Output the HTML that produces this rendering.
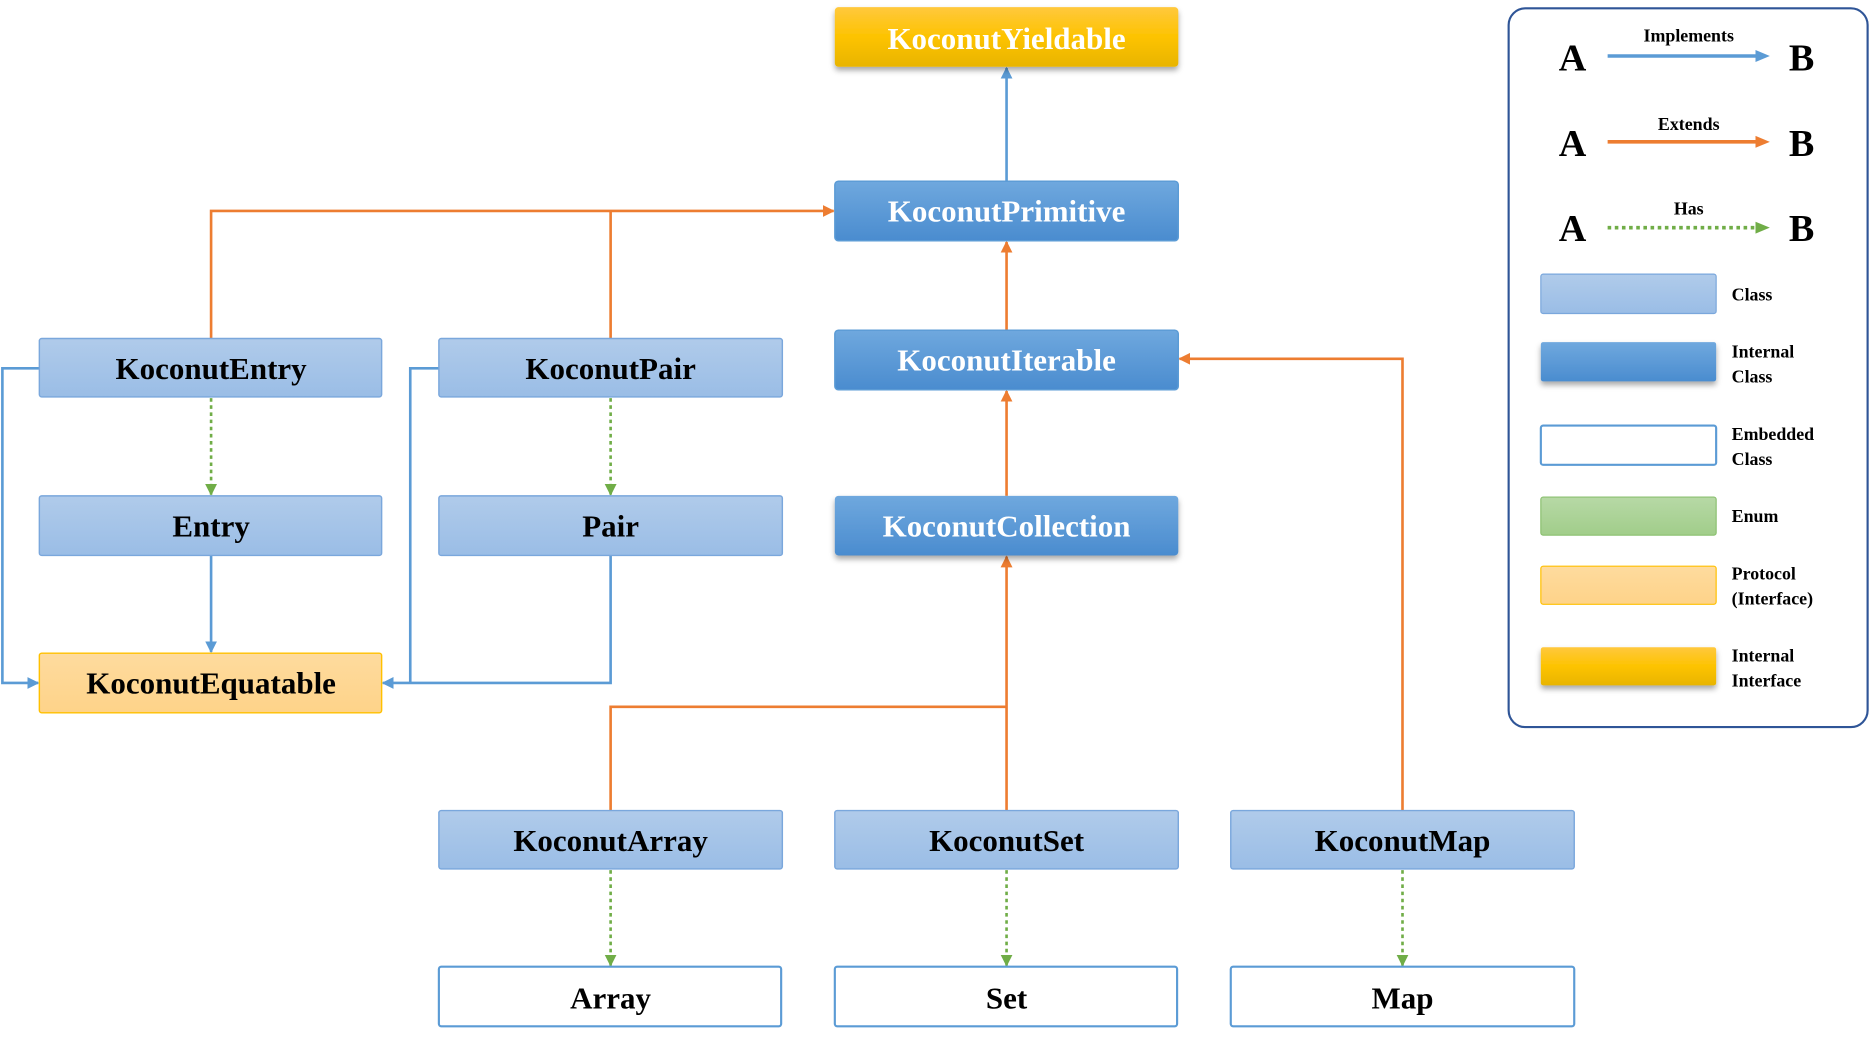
<!DOCTYPE html>
<html><head><meta charset="utf-8"><style>
html,body{margin:0;padding:0;background:#fff;width:1870px;height:1037px;overflow:hidden}
svg{display:block}
text{font-family:"Liberation Serif",serif;font-weight:bold}
</style></head><body>
<svg width="1870" height="1037" viewBox="0 0 1568 870" preserveAspectRatio="none" xmlns="http://www.w3.org/2000/svg">
<defs>
<linearGradient id="cls" x1="0" y1="0" x2="0" y2="1"><stop offset="0" stop-color="#b0cbea"/><stop offset="1" stop-color="#9abde6"/></linearGradient>
<linearGradient id="icls" x1="0" y1="0" x2="0" y2="1"><stop offset="0" stop-color="#6fa8de"/><stop offset="1" stop-color="#4a8ccf"/></linearGradient>
<linearGradient id="prot" x1="0" y1="0" x2="0" y2="1"><stop offset="0" stop-color="#fedb9e"/><stop offset="1" stop-color="#fed389"/></linearGradient>
<linearGradient id="iint" x1="0" y1="0" x2="0" y2="1"><stop offset="0" stop-color="#ffc83d"/><stop offset="0.5" stop-color="#fdc300"/><stop offset="1" stop-color="#e8b400"/></linearGradient>
<linearGradient id="enm" x1="0" y1="0" x2="0" y2="1"><stop offset="0" stop-color="#b7d9a6"/><stop offset="1" stop-color="#a1cd8a"/></linearGradient>
<filter id="sh" x="-10%" y="-20%" width="120%" height="160%"><feDropShadow dx="0" dy="3" stdDeviation="2.5" flood-color="#000" flood-opacity="0.35"/></filter>
<marker id="ab" markerWidth="10" markerHeight="10" refX="9" refY="5" orient="auto" markerUnits="userSpaceOnUse"><path d="M0,0 L10,5 L0,10 z" fill="#5b9bd5"/></marker>
<marker id="ao" markerWidth="10" markerHeight="10" refX="9" refY="5" orient="auto" markerUnits="userSpaceOnUse"><path d="M0,0 L10,5 L0,10 z" fill="#ed7d31"/></marker>
<marker id="ag" markerWidth="10" markerHeight="10" refX="9" refY="5" orient="auto" markerUnits="userSpaceOnUse"><path d="M0,0 L10,5 L0,10 z" fill="#70ad47"/></marker>
</defs>

<!-- connectors -->
<g fill="none" stroke-width="2.2">
<path d="M844,152 V57" stroke="#5b9bd5" marker-end="url(#ab)"/>
<path d="M177,284 V177 H699" stroke="#ed7d31" marker-end="url(#ao)"/>
<path d="M512,284 V177" stroke="#ed7d31"/>
<path d="M844,277 V203" stroke="#ed7d31" marker-end="url(#ao)"/>
<path d="M844,416 V328" stroke="#ed7d31" marker-end="url(#ao)"/>
<path d="M1176,680 V301 H989" stroke="#ed7d31" marker-end="url(#ao)"/>
<path d="M512,680 V593 H844" stroke="#ed7d31"/>
<path d="M844,680 V467" stroke="#ed7d31" marker-end="url(#ao)"/>
<path d="M177,334 V415" stroke="#70ad47" stroke-dasharray="3,3" marker-end="url(#ag)"/>
<path d="M512,334 V415" stroke="#70ad47" stroke-dasharray="3,3" marker-end="url(#ag)"/>
<path d="M512,730 V810" stroke="#70ad47" stroke-dasharray="3,3" marker-end="url(#ag)"/>
<path d="M844,730 V810" stroke="#70ad47" stroke-dasharray="3,3" marker-end="url(#ag)"/>
<path d="M1176,730 V810" stroke="#70ad47" stroke-dasharray="3,3" marker-end="url(#ag)"/>
<path d="M177,466 V547" stroke="#5b9bd5" marker-end="url(#ab)"/>
<path d="M512,466 V573 H321" stroke="#5b9bd5" marker-end="url(#ab)"/>
<path d="M33,309 H2 V573 H32" stroke="#5b9bd5" marker-end="url(#ab)"/>
<path d="M368,309 H344 V573" stroke="#5b9bd5"/>
</g>

<!-- boxes -->
<g stroke-width="1.2">
<rect x="700" y="6" width="288" height="50" rx="3" fill="url(#iint)" filter="url(#sh)"/>
<rect x="700" y="152" width="288" height="50" rx="3" fill="url(#icls)" stroke="#5b9bd5"/>
<rect x="700" y="277" width="288" height="50" rx="3" fill="url(#icls)" stroke="#5b9bd5"/>
<rect x="700" y="416" width="288" height="50" rx="3" fill="url(#icls)" filter="url(#sh)"/>
<rect x="33" y="284" width="287" height="49" rx="2" fill="url(#cls)" stroke="#7aa7dc"/>
<rect x="368" y="284" width="288" height="49" rx="2" fill="url(#cls)" stroke="#7aa7dc"/>
<rect x="33" y="416" width="287" height="50" rx="2" fill="url(#cls)" stroke="#7aa7dc"/>
<rect x="368" y="416" width="288" height="50" rx="2" fill="url(#cls)" stroke="#7aa7dc"/>
<rect x="33" y="548" width="287" height="50" rx="2" fill="url(#prot)" stroke="#ffc000"/>
<rect x="368" y="680" width="288" height="49" rx="2" fill="url(#cls)" stroke="#7aa7dc"/>
<rect x="700" y="680" width="288" height="49" rx="2" fill="url(#cls)" stroke="#7aa7dc"/>
<rect x="1032" y="680" width="288" height="49" rx="2" fill="url(#cls)" stroke="#7aa7dc"/>
<rect x="368" y="811" width="287" height="50" rx="2" fill="#fff" stroke="#5b9bd5" stroke-width="1.8"/>
<rect x="700" y="811" width="287" height="50" rx="2" fill="#fff" stroke="#5b9bd5" stroke-width="1.8"/>
<rect x="1032" y="811" width="288" height="50" rx="2" fill="#fff" stroke="#5b9bd5" stroke-width="1.8"/>
</g>

<g font-size="26" text-anchor="middle">
<text x="844" y="41" fill="#fff">KoconutYieldable</text>
<text x="844" y="186" fill="#fff">KoconutPrimitive</text>
<text x="844" y="311" fill="#fff">KoconutIterable</text>
<text x="844" y="450" fill="#fff">KoconutCollection</text>
<text x="177" y="318">KoconutEntry</text>
<text x="512" y="318">KoconutPair</text>
<text x="177" y="450">Entry</text>
<text x="512" y="450">Pair</text>
<text x="177" y="582">KoconutEquatable</text>
<text x="512" y="714">KoconutArray</text>
<text x="844" y="714">KoconutSet</text>
<text x="1176" y="714">KoconutMap</text>
<text x="512" y="846">Array</text>
<text x="844" y="846">Set</text>
<text x="1176" y="846">Map</text>
</g>

<!-- legend -->
<rect x="1265" y="7" width="301" height="603" rx="14" fill="#fff" stroke="#2f5597" stroke-width="1.8"/>
<g font-size="32">
<text x="1307" y="59">A</text><text x="1500" y="59">B</text>
<text x="1307" y="131">A</text><text x="1500" y="131">B</text>
<text x="1307" y="202">A</text><text x="1500" y="202">B</text>
</g>
<g font-size="15" text-anchor="middle">
<text x="1416" y="35">Implements</text>
<text x="1416" y="109">Extends</text>
<text x="1416" y="180">Has</text>
</g>
<path d="M1348,47 H1474" stroke="#5b9bd5" stroke-width="3"/><path d="M1472,42 L1484,47 L1472,52z" fill="#5b9bd5"/>
<path d="M1348,119 H1474" stroke="#ed7d31" stroke-width="3"/><path d="M1472,114 L1484,119 L1472,124z" fill="#ed7d31"/>
<path d="M1348,191 H1474" stroke="#70ad47" stroke-width="3" stroke-dasharray="3,3"/><path d="M1472,186 L1484,191 L1472,196z" fill="#70ad47"/>
<rect x="1292" y="230" width="147" height="33" rx="2" fill="url(#cls)" stroke="#7aa7dc"/>
<rect x="1292" y="287" width="147" height="33" rx="2" fill="url(#icls)" filter="url(#sh)"/>
<rect x="1292" y="357" width="147" height="33" rx="2" fill="#fff" stroke="#5b9bd5" stroke-width="1.8"/>
<rect x="1292" y="417" width="147" height="32" rx="2" fill="url(#enm)" stroke="#8bc070"/>
<rect x="1292" y="475" width="147" height="32" rx="2" fill="url(#prot)" stroke="#ffc000"/>
<rect x="1292" y="543" width="147" height="32" rx="2" fill="url(#iint)" filter="url(#sh)"/>
<g font-size="15">
<text x="1452" y="252">Class</text>
<text x="1452" y="300">Internal</text><text x="1452" y="321">Class</text>
<text x="1452" y="369">Embedded</text><text x="1452" y="390">Class</text>
<text x="1452" y="438">Enum</text>
<text x="1452" y="486">Protocol</text><text x="1452" y="507">(Interface)</text>
<text x="1452" y="555">Internal</text><text x="1452" y="576">Interface</text>
</g>
</svg>
</body></html>
